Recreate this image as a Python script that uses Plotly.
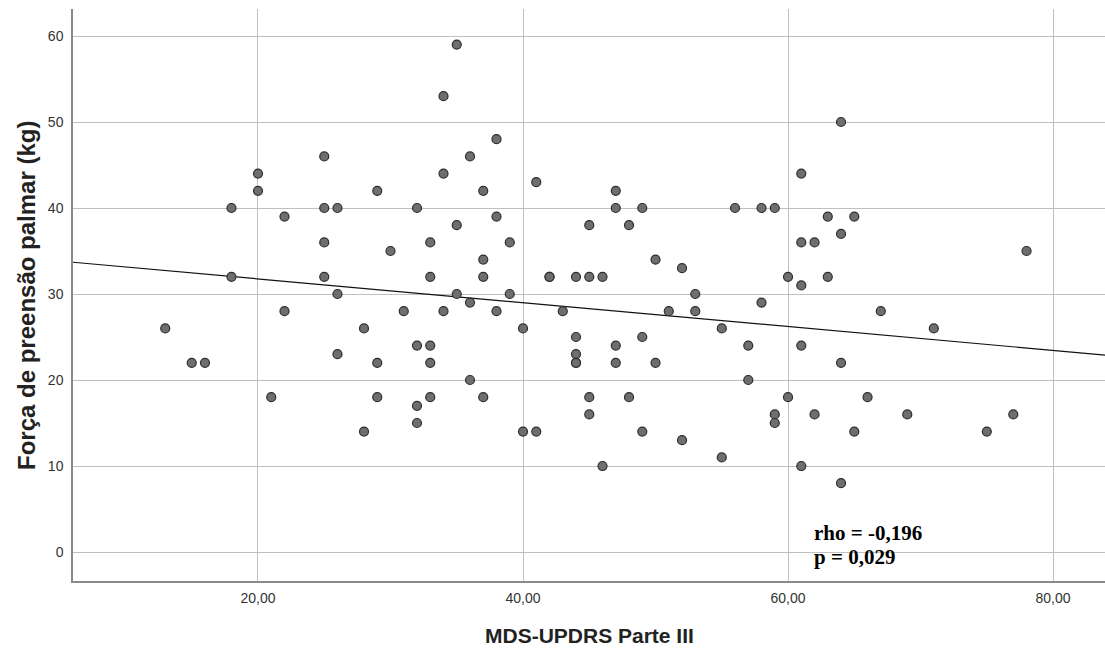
import plotly.graph_objects as go

# MDS-UPDRS Parte III scores and handgrip strength (kg)
updrs = [13, 15, 16, 18, 18, 20, 20, 21, 22, 22, 25, 25, 25, 25, 26, 26, 26, 28, 28,
         29, 29, 29, 30, 31, 32, 32, 32, 32, 33, 33, 33, 33, 33, 34, 34, 34, 35, 35, 35,
         36, 36, 36, 37, 37, 37, 37, 38, 38, 38, 39, 39, 40, 40, 41, 41, 42, 42, 43, 44,
         44, 44, 44, 44, 45, 45, 45, 45, 46, 46, 47, 47, 47, 47, 48, 48, 49, 49, 49, 50,
         50, 51, 52, 52, 53, 53, 55, 55, 56, 57, 57, 58, 58, 59, 59, 59, 60, 60, 61, 61,
         61, 61, 61, 62, 62, 63, 63, 64, 64, 64, 64, 65, 65, 66, 67, 69, 71, 75, 77, 78]
forca = [26, 22, 22, 40, 32, 44, 42, 18, 39, 28, 46, 40, 36, 32, 40, 30, 23, 26, 14,
         42, 22, 18, 35, 28, 40, 24, 17, 15, 36, 32, 24, 22, 18, 53, 44, 28, 59, 38, 30,
         46, 29, 20, 42, 34, 32, 18, 48, 39, 28, 36, 30, 26, 14, 43, 14, 32, 32, 28, 32,
         25, 23, 22, 22, 38, 32, 18, 16, 32, 10, 42, 40, 24, 22, 38, 18, 40, 25, 14, 34,
         22, 28, 33, 13, 30, 28, 26, 11, 40, 24, 20, 40, 29, 40, 16, 15, 32, 18, 44, 36,
         31, 24, 10, 36, 16, 39, 32, 50, 37, 22, 8, 39, 14, 18, 28, 16, 26, 14, 16, 35]

# Fitted line
fit_intercept = 34.53
fit_slope = -0.1386

x_range = [6.04, 83.92]
y_range = [-3.37, 63.14]
x_ticks = [20, 40, 60, 80]
y_ticks = [0, 10, 20, 30, 40, 50, 60]

rho_text = "rho = -0,196"
p_text = "p = 0,029"
x_title = "MDS-UPDRS Parte III"
y_title = "Força de preensão palmar (kg)"

fig = go.Figure()

fig.add_trace(go.Scatter(
    x=x_range,
    y=[fit_intercept + fit_slope * v for v in x_range],
    mode="lines",
    line=dict(color="#111111", width=1.2),
    hoverinfo="skip",
    showlegend=False,
))

fig.add_trace(go.Scatter(
    x=updrs, y=forca, mode="markers",
    marker=dict(size=9, color="#6e6e6e", line=dict(color="#2e2e2e", width=1.2)),
    showlegend=False,
))

stats_font = dict(family="Liberation Serif, Times New Roman, serif", size=21,
                  color="black", weight="bold")
xtitle_font = dict(family="Liberation Sans, Arial, sans-serif", size=21,
                   color="#222222", weight="bold")
ytitle_font = dict(family="Liberation Sans, Arial, sans-serif", size=24,
                   color="#222222", weight="bold")

fig.update_layout(
    width=1105, height=650,
    margin=dict(l=73, r=0, t=9, b=69),
    plot_bgcolor="white", paper_bgcolor="white",
    separators=",.",
    font=dict(family="Liberation Sans, Arial, sans-serif", color="#333333"),
    xaxis=dict(
        range=x_range, tickvals=x_ticks, tickformat=".2f",
        showgrid=True, gridcolor="#c0c0c0", gridwidth=1,
        zeroline=False, showline=True, linecolor="#8a8a8a", linewidth=1.5,
        ticks="", tickfont=dict(size=14, color="#333333"),
        ticklabelstandoff=3,
    ),
    yaxis=dict(
        range=y_range, tickvals=y_ticks,
        showgrid=True, gridcolor="#c0c0c0", gridwidth=1,
        zeroline=False, showline=True, linecolor="#8a8a8a", linewidth=1.5,
        ticks="", tickfont=dict(size=14, color="#333333"),
        ticklabelstandoff=5,
    ),
    annotations=[
        dict(text=rho_text, x=61.8, y=2.2, xref="x", yref="y",
             xanchor="left", yanchor="middle", align="left", showarrow=False,
             font=stats_font),
        dict(text=p_text, x=61.8, y=-0.6, xref="x", yref="y",
             xanchor="left", yanchor="middle", align="left", showarrow=False,
             font=stats_font),
        dict(text=x_title, x=0.5, y=(581 - 635.5) / 572, xref="paper", yref="paper",
             xanchor="center", yanchor="middle", showarrow=False,
             font=xtitle_font),
        dict(text=y_title, x=(26 - 73) / 1032, y=(581 - 296) / 572, xref="paper", yref="paper",
             xanchor="center", yanchor="middle", textangle=-90, showarrow=False,
             font=ytitle_font),
    ],
)

fig.write_html("out.html")
